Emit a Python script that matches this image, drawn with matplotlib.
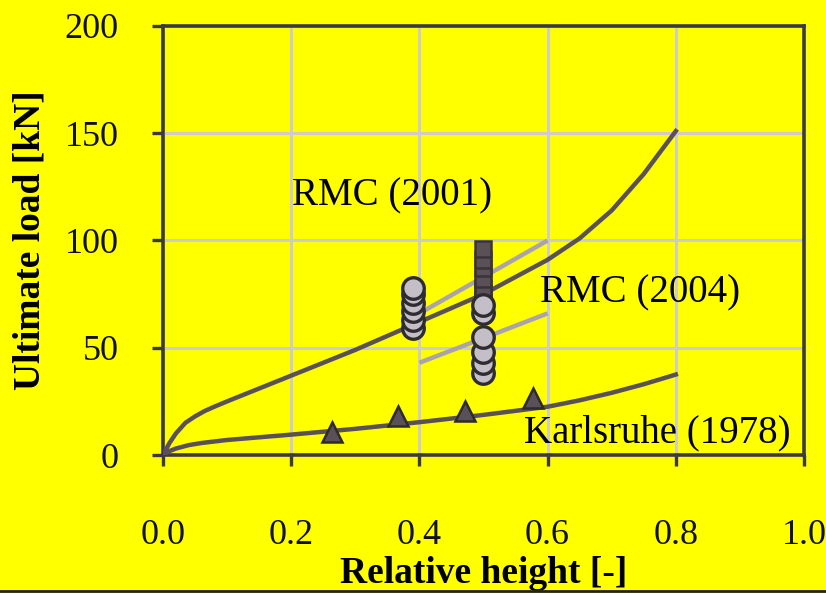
import matplotlib
matplotlib.use("Agg")
import matplotlib.pyplot as plt
from matplotlib.lines import Line2D

# Model curves
rmc2001_x = [0.0, 0.01, 0.02, 0.035, 0.05, 0.065, 0.08, 0.1, 0.15, 0.2, 0.3, 0.4,
             0.5, 0.55, 0.6, 0.65, 0.7, 0.75, 0.8]
rmc2001_y = [0.0, 5.5, 10.0, 15.0, 18.0, 20.5, 22.5, 25.0, 31.0, 37.0, 49.0, 62.0,
             75.0, 83.0, 91.0, 101.0, 114.0, 131.0, 151.0]

karlsruhe_x = [0.0, 0.01, 0.02, 0.04, 0.06, 0.1, 0.2, 0.3, 0.4, 0.5, 0.6, 0.65,
               0.7, 0.75, 0.8]
karlsruhe_y = [0.0, 1.8, 3.0, 4.6, 5.6, 7.0, 9.5, 12.2, 15.3, 18.7, 22.5, 25.5,
               29.0, 33.0, 37.5]

rmc2004_upper_x = [0.4, 0.6]
rmc2004_upper_y = [66.0, 100.0]
rmc2004_lower_x = [0.4, 0.6]
rmc2004_lower_y = [43.0, 66.0]

# Test results
tri_x = [0.263, 0.367, 0.471, 0.577]
tri_y = [10.5, 18.0, 20.5, 26.5]

circ_a_x = [0.39] * 6
circ_a_y = [59.0, 63.0, 67.0, 71.0, 75.0, 78.0]
circ_b_x = [0.5] * 6
circ_b_y = [38.0, 43.0, 48.0, 55.0, 66.0, 70.0]

sq_x = [0.5] * 7
sq_y = [72.0, 75.0, 78.0, 82.0, 87.0, 91.0, 96.0]

x_ticks = [0.0, 0.2, 0.4, 0.6, 0.8, 1.0]
x_ticklabels = ["0.0", "0.2", "0.4", "0.6", "0.8", "1.0"]
y_ticks = [0, 50, 100, 150, 200]

YELLOW = "#ffff00"
DARK = "#5a5058"
LIGHT = "#aaa3ad"
SPINE = "#3c3a40"
GRID = "#cdc8dc"

plt.rcParams["font.family"] = ["Liberation Serif", "DejaVu Serif"]

fig = plt.figure(figsize=(8.26, 5.93), dpi=100, facecolor=YELLOW)
ax = fig.add_axes([0.1973, 0.2327, 0.7761, 0.7235], facecolor=YELLOW)

ax.set_xlim(0, 1.0)
ax.set_ylim(0, 200)
ax.set_xticks(x_ticks)
ax.set_xticklabels(x_ticklabels)
ax.set_yticks(y_ticks)

ax.grid(True, color=GRID, linewidth=2.0, zorder=0)
ax.set_axisbelow(True)

ax.plot(rmc2004_upper_x, rmc2004_upper_y, color=LIGHT, lw=3.2, solid_capstyle="butt", zorder=2)
ax.plot(rmc2004_lower_x, rmc2004_lower_y, color=LIGHT, lw=3.2, solid_capstyle="butt", zorder=2)
ax.plot(rmc2001_x, rmc2001_y, color=DARK, lw=3.2, zorder=3, solid_joinstyle="round")
ax.plot(karlsruhe_x, karlsruhe_y, color=DARK, lw=3.2, zorder=3, solid_joinstyle="round")

ax.plot(tri_x, tri_y, ls="none", marker="^", ms=15, mfc=DARK, mec="#2e2a2e",
        mew=1.8, zorder=5)
ax.plot(sq_x, sq_y, ls="none", marker="s", ms=11, mfc=DARK, mec="#3a3438",
        mew=1.8, zorder=5)
ax.plot(circ_a_x, circ_a_y, ls="none", marker="o", ms=15.5, mfc="#c4bfc6",
        mec="#2e2c30", mew=2.4, zorder=6)
ax.plot(circ_b_x, circ_b_y, ls="none", marker="o", ms=15.5, mfc="#c4bfc6",
        mec="#2e2c30", mew=2.4, zorder=6)

ax.text(0.357, 121, "RMC (2001)", fontsize=28, ha="center", va="center", zorder=7)
ax.text(0.744, 75.5, "RMC (2004)", fontsize=28, ha="center", va="center", zorder=7)
ax.text(0.771, 10.5, "Karlsruhe (1978)", fontsize=28, ha="center", va="center", zorder=7)

for side in ["left", "right", "top", "bottom"]:
    ax.spines[side].set_color(SPINE)
    ax.spines[side].set_linewidth(2.6)

ax.tick_params(axis="both", direction="out", color=SPINE, width=2.4, length=8,
               labelsize=26, labelcolor="#111111")
ax.tick_params(axis="y", pad=24)
ax.tick_params(axis="x", pad=38)

ax.set_xlabel("Relative height [-]", fontsize=27, fontweight="bold", labelpad=3)
ax.set_ylabel("Ultimate load [kN]", fontsize=27, fontweight="bold", labelpad=12)

# thin dark rule along the bottom edge of the figure
fig.add_artist(Line2D([0, 1], [0.003, 0.003], transform=fig.transFigure,
                      color="#222222", lw=2))

fig.savefig("out.png", dpi=100, facecolor=YELLOW)
